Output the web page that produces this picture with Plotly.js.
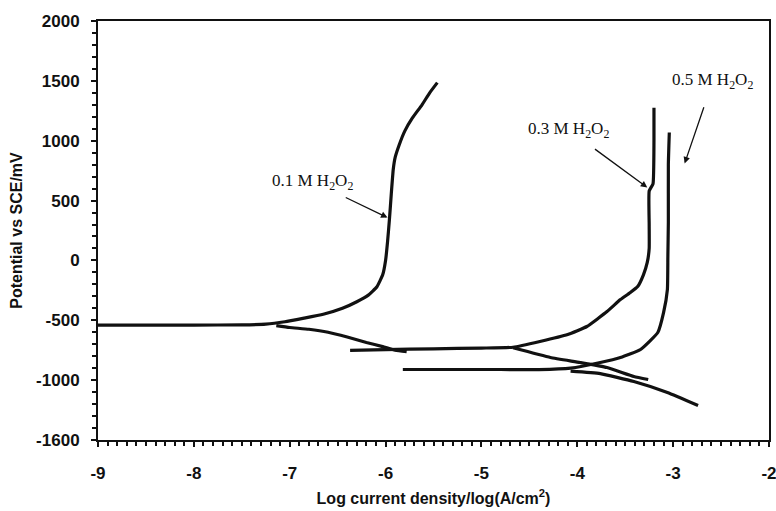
<!DOCTYPE html>
<html>
<head>
<meta charset="utf-8">
<script src="https://cdn.plot.ly/plotly-3.0.1.min.js"></script>
<style>html,body{margin:0;padding:0;background:#fff;}#chart{width:776px;height:511px;}</style>
</head>
<body>
<div id="chart"></div>
<script>
// 0.1 M H2O2
var x01a = [-9, -8.5, -8, -7.5, -7.25, -7.05, -6.85, -6.65, -6.45, -6.3, -6.18, -6.09, -6.03, -6.0, -5.98, -5.96, -5.94, -5.92, -5.9, -5.86, -5.8, -5.72, -5.62, -5.54, -5.46];
var y01a = [-540, -540, -540, -538, -532, -512, -482, -450, -400, -345, -290, -220, -120, 0, 150, 340, 560, 760, 860, 960, 1080, 1190, 1300, 1400, 1485];
var x01c = [-7.14, -7.0, -6.8, -6.6, -6.4, -6.2, -6.03, -5.9, -5.78];
var y01c = [-544, -560, -575, -600, -640, -685, -720, -750, -762];
// 0.3 M H2O2
var x03a = [-6.37, -6.0, -5.5, -5.0, -4.67, -4.39, -4.10, -3.90, -3.69, -3.55, -3.45, -3.37, -3.31, -3.27, -3.25, -3.25, -3.25, -3.21, -3.20, -3.20];
var y03a = [-752, -745, -738, -732, -725, -677, -619, -552, -427, -327, -270, -218, -120, -17, 100, 300, 580, 640, 1000, 1275];
var x03c = [-4.67, -4.28, -3.97, -3.69, -3.41, -3.26];
var y03c = [-730, -811, -853, -895, -970, -995];
// 0.5 M H2O2
var x05a = [-5.82, -5.3, -4.8, -4.4, -4.07, -3.76, -3.55, -3.34, -3.16, -3.10, -3.06, -3.055, -3.05, -3.05, -3.04];
var y05a = [-911, -911, -911, -912, -900, -853, -811, -744, -602, -436, -244, 30, 320, 800, 1069];
var x05c = [-4.07, -3.76, -3.41, -3.06, -2.74];
var y05c = [-925, -945, -1012, -1103, -1212];

var yTickVals = [-1500, -1000, -500, 0, 500, 1000, 1500, 2000];
var yTickText = ['-1600', '-1000', '-500', '0', '500', '1000', '1500', '2000'];
var xTickVals = [-9, -8, -7, -6, -5, -4, -3, -2];
var xTickText = ['-9', '-8', '-7', '-6', '-5', '-4', '-3', '-2'];

var labels = ['0.1 M H<sub>2</sub>O<sub>2</sub>', '0.3 M H<sub>2</sub>O<sub>2</sub>', '0.5 M H<sub>2</sub>O<sub>2</sub>'];
// arrow tips (data) for each label
var tipX = [-5.98, -3.27, -2.88];
var tipY = [358, 609, 810];

var lineStyle = {color: '#111', width: 3.2, shape: 'spline', smoothing: 0.4};
function tr(x, y) { return {x: x, y: y, mode: 'lines', line: lineStyle, showlegend: false, hoverinfo: 'skip'}; }

var data = [tr(x01a, y01a), tr(x01c, y01c), tr(x03a, y03a), tr(x03c, y03c), tr(x05a, y05a), tr(x05c, y05c)];

var annFont = {family: 'Liberation Serif, Times New Roman, serif', size: 17, color: '#111'};
function ann(i, ax, ay, ss) {
  return {x: tipX[i], y: tipY[i], xref: 'x', yref: 'y', text: labels[i], font: annFont,
          showarrow: true, ax: ax, ay: ay, arrowhead: 2, arrowsize: 1, arrowwidth: 1.3,
          arrowcolor: '#111', standoff: 0, startstandoff: ss};
}
var layout = {
  width: 776, height: 511,
  margin: {l: 98, r: 7, t: 21, b: 71},
  paper_bgcolor: '#fff', plot_bgcolor: '#fff',
  font: {family: 'Liberation Sans, Arial, sans-serif', color: '#111'},
  xaxis: {
    range: [-9, -2], tickvals: xTickVals, ticktext: xTickText,
    showgrid: false, zeroline: false, showline: true, linewidth: 2, linecolor: '#111', mirror: true,
    ticks: 'outside', ticklen: 5, tickwidth: 2, tickcolor: '#111',
    ticklabelstandoff: 12, ticklabeloverflow: 'allow',
    minor: {dtick: 0.1, ticks: 'outside', ticklen: 4, tickwidth: 2, tickcolor: '#111', showgrid: false},
    tickfont: {size: 17, weight: 'bold', color: '#111'},
    title: {text: 'Log current density/log(A/cm<sup>2</sup>)', font: {size: 16, weight: 'bold', color: '#111'}, standoff: 10}
  },
  yaxis: {
    range: [-1500, 2000], tickvals: yTickVals, ticktext: yTickText,
    showgrid: false, zeroline: false, showline: true, linewidth: 2, linecolor: '#111', mirror: true,
    ticks: 'outside', ticklen: 5, tickwidth: 2, tickcolor: '#111',
    ticklabelstandoff: 8,
    minor: {dtick: 100, ticks: 'outside', ticklen: 4, tickwidth: 2, tickcolor: '#111', showgrid: false},
    tickfont: {size: 17, weight: 'bold', color: '#111'},
    title: {text: 'Potential vs SCE/mV', font: {size: 16, weight: 'bold', color: '#111'}, standoff: 10}
  },
  annotations: [
    ann(0, -75, -36, 8),
    ann(1, -79, -58, 12),
    ann(2, 28, -82, 14)
  ]
};

Plotly.newPlot('chart', data, layout, {displayModeBar: false, staticPlot: true});
</script>
</body>
</html>
